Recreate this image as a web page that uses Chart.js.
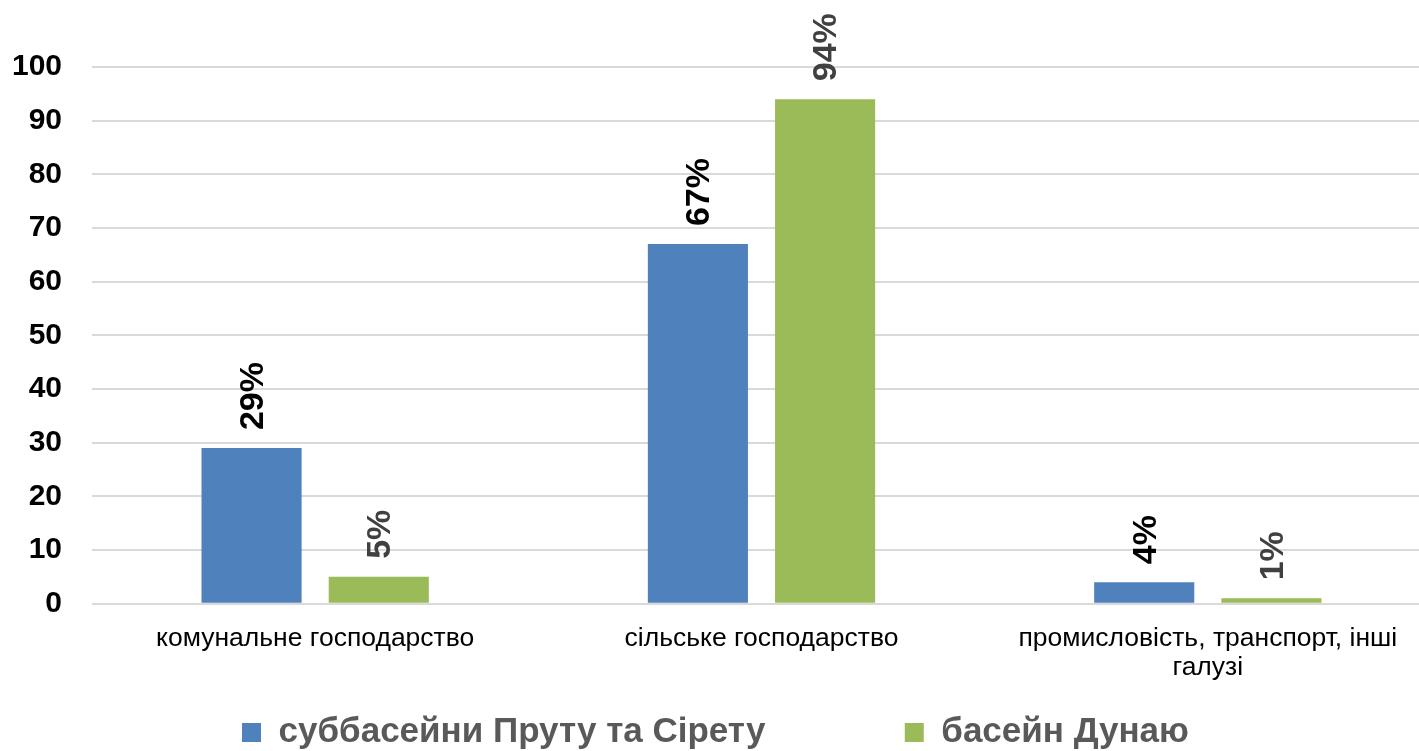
<!DOCTYPE html>
<html lang="uk">
<head>
<meta charset="utf-8">
<title>Водокористування за галузями</title>
<script src="https://cdn.jsdelivr.net/npm/chart.js@4.4.1/dist/chart.umd.min.js"></script>
<style>
  html, body { margin: 0; padding: 0; background: #fff; overflow: hidden; }
  #wrap { width: 1431px; height: 760px; }
</style>
</head>
<body>
<div id="wrap"><canvas id="sectorChart"></canvas></div>
<script>
const categories = [
  "комунальне господарство",
  "сільське господарство",
  ["промисловість, транспорт, інші", "галузі"],
];
const seriesNames = ["суббасейни Пруту та Сірету", "басейн Дунаю"];
const prutSiretValues = [29, 67, 4];
const danubeValues = [5, 94, 1];

const yMin = 0;
const yMax = 100;
const yStep = 10;

const FONT = "'Liberation Sans', Arial, sans-serif";

// rotated percent labels above each bar
const barLabels = {
  id: "barLabels",
  afterDatasetsDraw(chart) {
    const ctx = chart.ctx;
    const colors = ["#000000", "#404040"];
    chart.data.datasets.forEach((ds, i) => {
      const meta = chart.getDatasetMeta(i);
      meta.data.forEach((bar, j) => {
        ctx.save();
        ctx.translate(bar.x, bar.y - 18);
        ctx.rotate(-Math.PI / 2);
        ctx.font = `bold 34px ${FONT}`;
        ctx.fillStyle = colors[i];
        ctx.textAlign = "left";
        ctx.textBaseline = "middle";
        ctx.fillText(`${ds.data[j]}%`, 0, 2);
        ctx.restore();
      });
    });
  },
};

function renderChart() {
  const ctx = document.getElementById("sectorChart");

  new Chart(ctx, {
    type: "bar",
    data: {
      labels: categories,
      datasets: [
        {
          label: seriesNames[0],
          data: prutSiretValues,
          backgroundColor: "#4F81BD",
          categoryPercentage: 0.57,
          barPercentage: 0.787,
        },
        {
          label: seriesNames[1],
          data: danubeValues,
          backgroundColor: "#9BBB59",
          categoryPercentage: 0.57,
          barPercentage: 0.787,
        },
      ],
    },
    options: {
      responsive: true,
      maintainAspectRatio: false,
      animation: false,
      layout: { padding: { top: 67, left: 0, right: 0, bottom: 0 } },
      plugins: {
        tooltip: { enabled: false },
        legend: {
          position: "bottom",
          labels: {
            color: "#595959",
            font: { family: FONT, size: 35, weight: "bold" },
            boxWidth: 19,
            boxHeight: 19,
            padding: 13,
            generateLabels: (chart) => {
              const items = Chart.defaults.plugins.legend.labels.generateLabels(chart);
              if (items.length) items[0].text += "             ";
              return items;
            },
          },
        },
      },
      scales: {
        x: {
          grid: { display: false, drawTicks: false },
          border: { display: false },
          ticks: {
            color: "#000",
            padding: 20,
            maxRotation: 0,
            autoSkip: false,
            font: { family: FONT, size: 26.5, lineHeight: 1.1 },
          },
        },
        y: {
          min: yMin,
          max: yMax,
          border: { display: false },
          grid: { color: "#d9d9d9", lineWidth: 2, drawTicks: false },
          ticks: {
            stepSize: yStep,
            color: "#000",
            padding: 30,
            font: { family: FONT, size: 30, weight: "bold" },
          },
          afterFit: (scale) => {
            scale.width = 92;
          },
        },
      },
    },
    plugins: [barLabels],
  });
}

document.addEventListener("DOMContentLoaded", renderChart);
</script>
</body>
</html>
